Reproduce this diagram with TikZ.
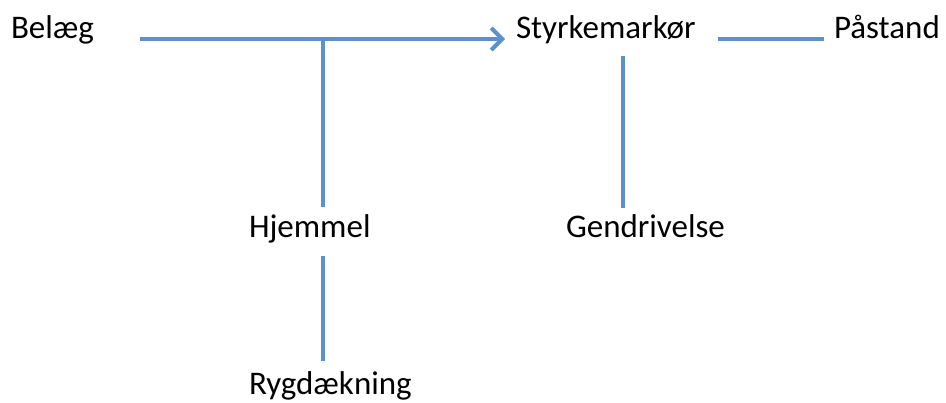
\documentclass[tikz,border=0pt]{standalone}
\usepackage{fontspec}
\setmainfont{Carlito}
\usepackage{tikz}
\usetikzlibrary{arrows.meta, positioning}
\definecolor{LinkBlue}{RGB}{92,145,205}

\begin{document}
\begin{tikzpicture}[x=1pt,y=-1pt,>={Straight Barb[length=11pt,width=22pt]},
        every node/.style={inner sep=0pt,outer sep=0pt,anchor=base west,font=\fontsize{33}{40}\selectfont},
        link/.style={draw=LinkBlue,line width=4pt}]
      \useasboundingbox (0,0) rectangle (946,403);

      \node (belaeg)   at (11,39)   {Belæg};
      \node (styrke)   at (516,39)  {Styrkemarkør};
      \node (paastand) at (834,39)  {Påstand};
      \node (hjemmel)  at (249,238) {Hjemmel};
      \node (rygd)     at (249,395) {Rygdækning};
      \node (gendriv)  at (566,238) {Gendrivelse};
      \coordinate (warrant) at (323,39);
      \coordinate (rebut) at (623,39);

      \path (belaeg.east |- warrant) edge[link,->,shorten <=46pt,shorten >=11pt] (styrke.west |- warrant);
      \path (styrke.east |- warrant) edge[link,shorten <=22pt,shorten >=10pt] (paastand.west |- warrant);
      \path (warrant) edge[link,shorten >=8pt] (warrant |- hjemmel.north);
      \path (warrant |- hjemmel.south) edge[link,shorten <=12pt,shorten >=11pt] (warrant |- rygd.north);
      \path (rebut |- styrke.south) edge[link,shorten <=12pt,shorten >=7pt] (rebut |- gendriv.north);
    \end{tikzpicture}
\end{document}
